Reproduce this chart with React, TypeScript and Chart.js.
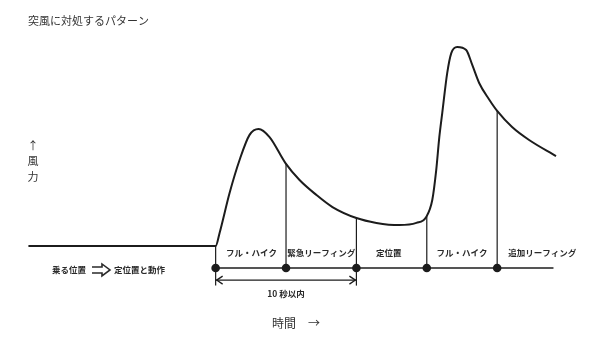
import React, { useEffect, useRef } from "react";
import { Chart, registerables } from "chart.js";

Chart.register(...registerables);

// Wind-force curve: time (s) vs. wind force (arbitrary units)
const curveTime = [-13.3, 0, 0.28, 0.99, 1.7, 2.41, 3.05, 3.83, 4.96, 5.96, 7.16, 8.3, 10.0, 11.42, 13.05, 14.26, 14.96, 15.39, 15.67, 15.89, 16.1, 16.45, 16.74, 17.16, 17.8, 18.23, 18.72, 19.43, 20.0, 21.06, 22.27, 24.18];
const curveWind = [10, 10, 15.9, 34.1, 49.1, 60.5, 63.2, 59.5, 47.7, 40, 33.2, 27.7, 22.7, 20.5, 19.5, 20.5, 23.2, 30.9, 44.5, 59.5, 70.5, 88.6, 97.7, 100.5, 99.1, 92.3, 84.1, 76.6, 71.4, 64.1, 58.2, 50.9];

// Action events on the time line
const eventTimes = [0, 5, 10, 15, 20];
const eventTops = [10, 47.5, 22.7, 23.4, 71.4];
const eventBottoms = [-8, 0, -8, 0, 0];
const timelineEnd = 24;

// Phase labels between events
const phaseLabels = ["フル・ハイク", "緊急リーフィング", "定位置", "フル・ハイク", "追加リーフィング"];
const phaseTimes = [2.55, 7.5, 12.3, 17.5, 23.2];

// "within 10 seconds" span
const spanStart = 0;
const spanEnd = 10;
const spanLabel = "10 秒以内";

const title = "突風に対処するパターン";
const yLabel = ["↑", "風", "力"];
const xLabel = "時間　→";
const startLabel = "乗る位置";
const startLabel2 = "定位置と動作";

const INK = "#1c1c1c";

export default function App() {
  const ref = useRef<HTMLCanvasElement | null>(null);

  useEffect(() => {
    if (!ref.current) return;

    const textPlugin = {
      id: "texts",
      afterDraw(chart: any) {
        const ctx = chart.ctx;
        const xs = chart.scales.x;
        const ys = chart.scales.y;
        ctx.save();
        // title
        ctx.fillStyle = "#333";
        ctx.font = '11px "Noto Sans CJK JP"';
        ctx.textAlign = "left";
        ctx.textBaseline = "middle";
        ctx.fillText(title, 28, 21);
        // y label (vertical)
        ctx.textAlign = "center";
        ctx.font = '11px "Noto Sans CJK JP"';
        ctx.fillText(yLabel[0], 33, 146);
        ctx.fillText(yLabel[1], 33, 161);
        ctx.fillText(yLabel[2], 33, 177);
        // x label
        ctx.font = '12px "Noto Sans CJK JP"';
        ctx.textAlign = "left";
        ctx.fillText(xLabel, 272, 323);

        // phase labels (scanned look)
        ctx.fillStyle = "#2a2a2a";
        ctx.font = 'bold 8.5px "Noto Sans CJK JP"';
        ctx.textAlign = "center";
        const ly = ys.getPixelForValue(6.8);
        phaseLabels.forEach((s, i) => {
          ctx.fillText(s, xs.getPixelForValue(phaseTimes[i]), ly);
        });
        // span label
        ctx.fillText(spanLabel, xs.getPixelForValue((spanStart + spanEnd) / 2), ys.getPixelForValue(-11.8));

        // start-position legend
        const sy = ys.getPixelForValue(-0.9);
        ctx.textAlign = "left";
        ctx.fillText(startLabel, 52, sy);
        ctx.fillText(startLabel2, 114, sy);
        // hollow double arrow ⇨
        ctx.strokeStyle = "#2a2a2a";
        ctx.lineWidth = 1.6;
        ctx.beginPath();
        ctx.moveTo(92, sy - 3);
        ctx.lineTo(102, sy - 3);
        ctx.lineTo(102, sy - 6);
        ctx.lineTo(110, sy);
        ctx.lineTo(102, sy + 6);
        ctx.lineTo(102, sy + 3);
        ctx.lineTo(92, sy + 3);
        ctx.stroke();

        // span arrowheads (open)
        const ay = ys.getPixelForValue(-5.5);
        const ax0 = xs.getPixelForValue(spanStart);
        const ax1 = xs.getPixelForValue(spanEnd);
        ctx.strokeStyle = INK;
        ctx.lineWidth = 1.3;
        ctx.beginPath();
        ctx.moveTo(ax0 + 7, ay - 4);
        ctx.lineTo(ax0 + 1, ay);
        ctx.lineTo(ax0 + 7, ay + 4);
        ctx.moveTo(ax1 - 7, ay - 4);
        ctx.lineTo(ax1 - 1, ay);
        ctx.lineTo(ax1 - 7, ay + 4);
        ctx.stroke();
        ctx.restore();
      },
    };

    const verticals = eventTimes.map((t, i) => ({
      type: "line" as const,
      data: [
        { x: t, y: eventBottoms[i] },
        { x: t, y: eventTops[i] },
      ],
      borderColor: INK,
      borderWidth: 1.2,
      pointRadius: 0,
      clip: false as any,
    }));

    const chart = new Chart(ref.current, {
      type: "line",
      data: {
        datasets: [
          {
            data: curveTime.map((t, i) => ({ x: t, y: curveWind[i] })),
            borderColor: INK,
            borderWidth: 2,
            pointRadius: 0,
            cubicInterpolationMode: "monotone",
            clip: false as any,
          },
          ...verticals,
          {
            data: [
              { x: eventTimes[0], y: 0 },
              { x: timelineEnd, y: 0 },
            ],
            borderColor: INK,
            borderWidth: 1.5,
            pointRadius: 0,
            clip: false as any,
          },
          {
            data: [
              { x: spanStart, y: -5.5 },
              { x: spanEnd, y: -5.5 },
            ],
            borderColor: INK,
            borderWidth: 1.3,
            pointRadius: 0,
            clip: false as any,
          },
          {
            data: eventTimes.map((t) => ({ x: t, y: 0 })),
            showLine: false,
            pointRadius: 4.3,
            pointBackgroundColor: INK,
            pointBorderColor: INK,
            borderWidth: 0,
            clip: false as any,
          },
        ] as any,
      },
      options: {
        animation: false,
        responsive: true,
        maintainAspectRatio: false,
        layout: { padding: { left: 4.5, right: 3.3, top: 48, bottom: 47 } },
        plugins: { legend: { display: false }, tooltip: { enabled: false }, title: { display: false } },
        scales: {
          x: { type: "linear", min: -15, max: 27, display: false },
          y: { type: "linear", min: -10, max: 100, display: false },
        },
      },
      plugins: [textPlugin],
    });
    return () => chart.destroy();
  }, []);

  return (
    <div style={{ position: "fixed", left: 0, top: 0, width: 600, height: 337, background: "#fff" }}>
      <canvas ref={ref} />
    </div>
  );
}
